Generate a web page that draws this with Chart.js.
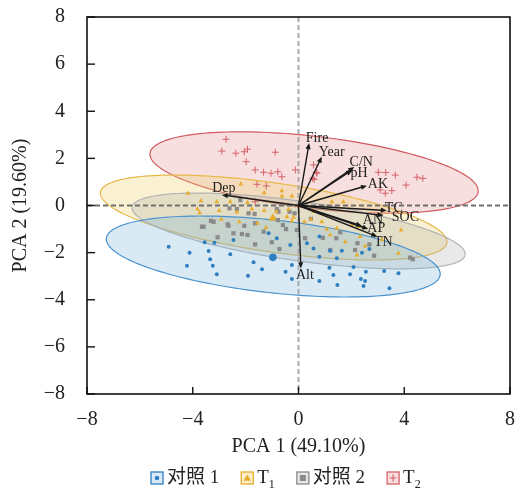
<!DOCTYPE html>
<html><head><meta charset="utf-8">
<script src="https://cdn.jsdelivr.net/npm/chart.js@4.4.0/dist/chart.umd.min.js"></script>
<style>html,body{margin:0;padding:0;background:#fff}#wrap{width:522px;height:491px;position:relative}</style>
</head><body><div id="wrap"><canvas id="c" width="522" height="491"></canvas></div>
<script>
// ---------------- DATA ----------------
const groupNames = ['对照 1', 'T1', '对照 2', 'T2'];
const xAxisTitle = 'PCA 1 (49.10%)';
const yAxisTitle = 'PCA 2 (19.60%)';
const xTickValues = [-8, -4, 0, 4, 8];
const yTickValues = [-8, -6, -4, -2, 0, 2, 4, 6, 8];

const ctrl1Points = [[-4.91,-1.75],[-4.12,-2.00],[-4.22,-2.56],[-3.40,-1.93],[-3.34,-2.28],[-3.24,-2.56],[-3.09,-2.92],[-2.58,-2.07],[-2.46,-1.46],[-3.55,-1.56],[-3.18,-1.58],[-1.91,-2.98],[-1.70,-2.41],[-1.38,-2.71],[-1.13,-1.18],[-0.82,-1.39],[-0.49,-2.81],[-0.25,-2.53],[-0.25,-3.12],[-0.31,-1.68],[0.32,-1.60],[0.79,-1.32],[0.57,-1.82],[0.79,-2.17],[1.17,-2.64],[1.45,-2.24],[1.47,-3.37],[1.32,-2.95],[0.79,-3.20],[1.95,-2.92],[2.08,-2.61],[2.36,-3.12],[2.46,-3.42],[2.52,-3.20],[2.55,-2.81],[2.68,-1.85],[3.24,-2.78],[3.44,-3.51],[3.78,-2.88],[1.20,-1.92],[1.64,-1.92],[2.40,-2.00]];
const t1Points = [[-4.18,0.52],[-3.69,0.20],[-3.09,0.16],[-2.58,0.16],[-2.18,0.91],[-1.30,0.54],[-0.63,0.62],[-0.63,0.40],[-0.25,0.40],[-1.93,0.12],[-3.74,-0.31],[-3.82,-0.15],[-3.00,-0.22],[-2.33,-0.28],[-1.30,-0.22],[-0.84,-0.26],[-0.38,-0.16],[-0.19,-0.50],[-2.92,-0.59],[-2.24,-0.69],[-1.55,-0.76],[-1.23,-0.94],[-0.44,-0.48],[-0.25,-0.66],[0.47,-0.59],[0.88,-0.69],[1.26,0.16],[1.70,0.16],[0.57,-0.26],[1.07,-1.01],[1.45,-0.97],[2.02,-0.83],[2.27,-0.90],[1.20,-1.25],[1.77,-1.54],[2.21,-2.10],[2.52,-1.72],[3.15,-1.46],[3.88,-1.04],[3.78,-2.03],[2.33,-1.32],[-1.76,-0.15],[0.22,-0.69]];
const ctrl2Points = [[-3.59,-0.90],[-3.06,-1.35],[-3.21,-0.69],[-2.65,-0.86],[-2.33,-0.15],[-2.46,-1.18],[-2.05,-0.86],[-1.93,-1.25],[-1.64,-0.76],[-1.64,-1.65],[-1.32,-1.11],[-1.01,-1.56],[-0.72,-1.85],[-0.78,-0.62],[-0.47,-1.00],[-0.82,-0.15],[-0.15,-0.33],[0.25,-1.39],[0.47,-0.57],[0.92,-1.37],[1.20,-1.89],[1.43,-1.39],[1.58,-1.14],[2.14,-1.89],[2.23,-1.60],[2.68,-1.65],[2.86,-2.13],[4.22,-2.21],[4.32,-2.28],[-2.20,0.23],[-2.61,-0.12],[-1.66,-0.36],[-3.31,-0.65],[-3.65,-0.90],[-2.68,-0.80],[-0.76,-0.26],[-0.34,-0.26],[-0.59,-0.83],[-2.14,-1.21],[-1.89,-0.33],[-0.06,-1.04]];
const t2Points = [[-2.74,2.81],[-2.90,2.31],[-2.37,2.22],[-2.05,2.28],[-1.93,2.39],[-0.88,2.26],[-1.98,1.86],[-1.64,1.51],[-1.32,1.41],[-1.04,1.37],[-0.78,1.43],[-0.63,1.22],[-1.57,0.90],[-1.22,0.83],[-1.64,0.16],[-0.12,1.51],[0.57,1.72],[0.67,1.41],[0.54,1.15],[3.02,1.41],[3.66,1.29],[4.07,0.87],[4.48,1.20],[4.70,1.15],[3.53,0.63],[3.28,0.52],[3.09,0.66],[0.70,1.37],[0.59,1.11],[3.30,1.40]];
const ctrl1Centroid = [[-0.97,-2.20]];
const t1Centroid = [[-0.97,-0.54]];

// confidence ellipses (order: 对照1, T1, 对照2, T2)
const ellipseCenterX = [-0.955, -0.94, 0.005, 0.59];
const ellipseCenterY = [-2.165, -0.51, -1.08, 1.40];
const ellipseSemiMajor = [6.36, 6.64, 6.38, 6.26];
const ellipseSemiMinor = [1.54, 1.46, 1.26, 1.53];
const ellipseAngleDeg = [-7.1, -9.4, -9.2, -7.6];

// loading vectors
const loadingNames = ['Fire','Year','C/N','pH','AK','TC','SOC','AN','AP','TN','Alt','Dep'];
const loadingX = [0.40, 0.88, 2.11, 2.03, 2.59, 3.34, 3.21, 2.40, 2.64, 2.98, 0.09, -2.90];
const loadingY = [2.65, 2.07, 1.63, 1.51, 0.84, -0.21, -0.42, -0.87, -1.00, -1.32, -2.67, 0.45];

// ---------------- STYLE ----------------
const SERIF = '"Liberation Serif", "Times New Roman", "Noto Sans CJK SC", serif';
const groupColors = ['#2f7fc1', '#e6ad2e', '#8a8a8a', '#d6626a'];
const ellipseFill = ['rgba(120,180,220,0.28)', 'rgba(240,210,110,0.30)', 'rgba(165,170,165,0.26)', 'rgba(228,128,128,0.25)'];
const ellipseStroke = ['#4a93cf', '#e9b84a', '#b3b3b3', '#d05a60'];
const ellipseDrawOrder = [3, 1, 2, 0];
const labelOffsets = {Fire:[8,-5], Year:[10,-4], 'C/N':[7,-5], pH:[7,3], AK:[11,-1], TC:[7,-2], SOC:[22,2], AN:[11,-6], AP:[8,-1], TN:[6,6], Alt:[4,7], Dep:[2,-7]};

const toXY = arr => arr.map(p => ({x: p[0], y: p[1]}));
const fmt = v => (v < 0 ? '\u2212' + Math.abs(v) : String(v));

const overlayPlugin = {
  id: 'overlay',
  beforeDatasetsDraw(chart) {
    const {ctx, chartArea: a, scales: {x, y}} = chart;
    ctx.save();
    ctx.beginPath(); ctx.rect(a.left, a.top, a.right - a.left, a.bottom - a.top); ctx.clip();
    ellipseDrawOrder.forEach(i => {
      const th = ellipseAngleDeg[i] * Math.PI / 180;
      ctx.beginPath();
      for (let k = 0; k <= 180; k++) {
        const t = k / 180 * 2 * Math.PI;
        const dx = ellipseSemiMajor[i] * Math.cos(t), dy = ellipseSemiMinor[i] * Math.sin(t);
        const px = x.getPixelForValue(ellipseCenterX[i] + dx * Math.cos(th) - dy * Math.sin(th));
        const py = y.getPixelForValue(ellipseCenterY[i] + dx * Math.sin(th) + dy * Math.cos(th));
        k === 0 ? ctx.moveTo(px, py) : ctx.lineTo(px, py);
      }
      ctx.closePath();
      ctx.fillStyle = ellipseFill[i]; ctx.fill();
      ctx.strokeStyle = ellipseStroke[i]; ctx.lineWidth = 1.2; ctx.stroke();
    });
    // zero lines
    const x0 = x.getPixelForValue(0), y0 = y.getPixelForValue(0);
    ctx.lineWidth = 2;
    ctx.setLineDash([5, 3]);
    ctx.strokeStyle = '#a9a9a9';
    ctx.beginPath(); ctx.moveTo(x0, a.top); ctx.lineTo(x0, a.bottom); ctx.stroke();
    ctx.strokeStyle = '#6f6f6f';
    ctx.beginPath(); ctx.moveTo(a.left, y0); ctx.lineTo(a.right, y0); ctx.stroke();
    ctx.restore();
  },
  afterDatasetsDraw(chart) {
    const {ctx, chartArea: a, scales: {x, y}} = chart;
    ctx.save();
    const ox = x.getPixelForValue(0), oy = y.getPixelForValue(0);
    ctx.strokeStyle = '#1a1a1a'; ctx.fillStyle = '#1a1a1a'; ctx.lineWidth = 1.4; ctx.setLineDash([]);
    loadingNames.forEach((n, i) => {
      const tx = x.getPixelForValue(loadingX[i]), ty = y.getPixelForValue(loadingY[i]);
      const ang = Math.atan2(ty - oy, tx - ox);
      const hl = 6, hw = 2.6;
      ctx.beginPath(); ctx.moveTo(ox, oy);
      ctx.lineTo(tx - Math.cos(ang) * hl * 0.8, ty - Math.sin(ang) * hl * 0.8); ctx.stroke();
      ctx.beginPath();
      ctx.moveTo(tx, ty);
      ctx.lineTo(tx - Math.cos(ang) * hl + Math.sin(ang) * hw, ty - Math.sin(ang) * hl - Math.cos(ang) * hw);
      ctx.lineTo(tx - Math.cos(ang) * hl - Math.sin(ang) * hw, ty - Math.sin(ang) * hl + Math.cos(ang) * hw);
      ctx.closePath(); ctx.fill();
    });
    ctx.font = '14px ' + SERIF; ctx.textAlign = 'center'; ctx.textBaseline = 'middle';
    ctx.fillStyle = '#222';
    loadingNames.forEach((n, i) => {
      const tx = x.getPixelForValue(loadingX[i]), ty = y.getPixelForValue(loadingY[i]);
      const o = labelOffsets[n] || [0, 0];
      ctx.fillText(n, tx + o[0], ty + o[1]);
    });
    // frame
    ctx.strokeStyle = '#111'; ctx.lineWidth = 1.6;
    ctx.strokeRect(a.left, a.top, a.right - a.left, a.bottom - a.top);
    // inward ticks
    ctx.lineWidth = 1.4;
    xTickValues.forEach(v => { const px = x.getPixelForValue(v); ctx.beginPath(); ctx.moveTo(px, a.bottom); ctx.lineTo(px, a.bottom - 7); ctx.stroke(); });
    yTickValues.forEach(v => { const py = y.getPixelForValue(v); ctx.beginPath(); ctx.moveTo(a.left, py); ctx.lineTo(a.left + 8, py); ctx.stroke(); });
    ctx.restore();
  },
  afterDraw(chart) {
    // legend
    const {ctx} = chart;
    ctx.save();
    const cy = 478;
    let cx = 151;
    const size = 12;
    ctx.textBaseline = 'middle'; ctx.textAlign = 'left';
    const lightFill = ['#dbeaf7', '#fbefc9', '#e6e6e6', '#f8dede'];
    groupNames.forEach((name, i) => {
      ctx.fillStyle = lightFill[i];
      ctx.fillRect(cx, cy - size / 2, size, size);
      ctx.strokeStyle = groupColors[i]; ctx.lineWidth = 1.3;
      ctx.strokeRect(cx, cy - size / 2, size, size);
      const mx = cx + size / 2, my = cy;
      ctx.fillStyle = groupColors[i]; ctx.strokeStyle = groupColors[i];
      if (i === 0) { ctx.beginPath(); ctx.arc(mx, my, 2.3, 0, Math.PI * 2); ctx.fill(); }
      if (i === 1) { ctx.beginPath(); ctx.moveTo(mx, my - 3.5); ctx.lineTo(mx + 3.8, my + 2.8); ctx.lineTo(mx - 3.8, my + 2.8); ctx.closePath(); ctx.fill(); }
      if (i === 2) { ctx.fillRect(mx - 3, my - 3, 6, 6); }
      if (i === 3) { ctx.lineWidth = 1.2; ctx.beginPath(); ctx.moveTo(mx - 3.5, my); ctx.lineTo(mx + 3.5, my); ctx.moveTo(mx, my - 3.5); ctx.lineTo(mx, my + 3.5); ctx.stroke(); }
      cx += size + 4;
      ctx.fillStyle = '#222';
      ctx.font = '19px ' + SERIF;
      if (name.startsWith('T')) {
        ctx.fillText('T', cx, cy);
        const w = ctx.measureText('T').width;
        ctx.font = '12px ' + SERIF;
        ctx.fillText(name.slice(1), cx + w, cy + 7);
        cx += w + ctx.measureText(name.slice(1)).width;
      } else {
        ctx.fillText(name, cx, cy);
        cx += ctx.measureText(name).width;
      }
      cx += 22;
    });
    ctx.restore();
  }
};

const tickFont = {family: SERIF, size: 20};
new Chart(document.getElementById('c'), {
  type: 'scatter',
  data: {
    datasets: [
      {label: groupNames[0], data: toXY(ctrl1Points), pointStyle: 'circle', radius: 2, backgroundColor: groupColors[0], borderColor: groupColors[0], borderWidth: 0},
      {label: groupNames[1], data: toXY(t1Points), pointStyle: 'triangle', radius: 2.8, backgroundColor: groupColors[1], borderColor: groupColors[1], borderWidth: 0},
      {label: groupNames[2], data: toXY(ctrl2Points), pointStyle: 'rect', radius: 3, backgroundColor: groupColors[2], borderColor: groupColors[2], borderWidth: 0},
      {label: groupNames[3], data: toXY(t2Points), pointStyle: 'cross', radius: 3.5, backgroundColor: groupColors[3], borderColor: groupColors[3], borderWidth: 1},
      {label: 'c1', data: toXY(ctrl1Centroid), pointStyle: 'circle', radius: 3.8, backgroundColor: groupColors[0], borderColor: groupColors[0], borderWidth: 0},
      {label: 'c2', data: toXY(t1Centroid), pointStyle: 'triangle', radius: 5, backgroundColor: groupColors[1], borderColor: groupColors[1], borderWidth: 0}
    ]
  },
  options: {
    responsive: false, animation: false, devicePixelRatio: 1,
    layout: {padding: {top: 17, right: 12, bottom: 0, left: 0}},
    plugins: {legend: {display: false}, tooltip: {enabled: false}},
    scales: {
      x: {
        type: 'linear', min: -8, max: 8,
        afterBuildTicks: s => { s.ticks = xTickValues.map(v => ({value: v})); },
        afterFit: s => { s.height = 97; s.paddingLeft = 0; s.paddingRight = 0; },
        grid: {display: false}, border: {display: false},
        ticks: {font: tickFont, color: '#222', padding: 6, callback: v => fmt(v), maxRotation: 0},
        title: {display: true, text: xAxisTitle, font: {family: SERIF, size: 20}, color: '#222', padding: {top: 0, bottom: 32}}
      },
      y: {
        type: 'linear', min: -8, max: 8,
        afterBuildTicks: s => { s.ticks = yTickValues.map(v => ({value: v})); },
        afterFit: s => { s.width = 87; s.paddingTop = 0; s.paddingBottom = 0; },
        grid: {display: false}, border: {display: false},
        ticks: {font: tickFont, color: '#222', padding: 14, callback: v => fmt(v)},
        title: {display: true, text: yAxisTitle, font: {family: SERIF, size: 20}, color: '#222', padding: {top: 9, bottom: 0}}
      }
    }
  },
  plugins: [overlayPlugin]
});
</script></body></html>
